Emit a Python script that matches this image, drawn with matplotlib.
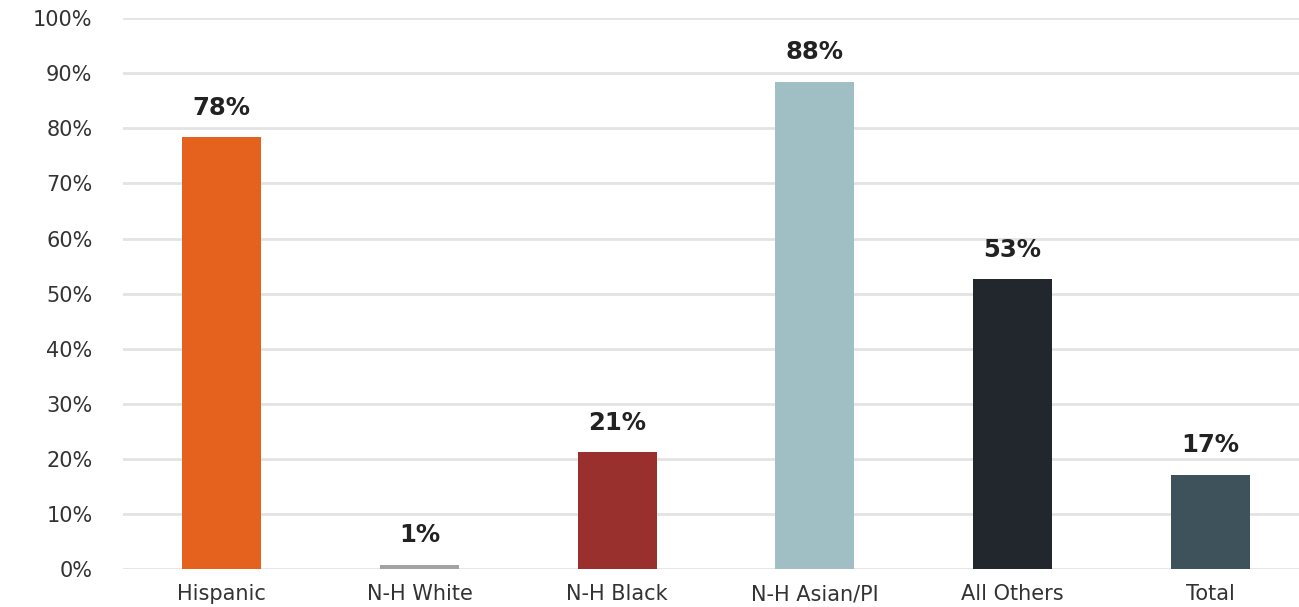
import matplotlib
matplotlib.use('Agg')
import matplotlib.pyplot as plt
import numpy as np

categories = ['Hispanic', 'N-H White', 'N-H Black', 'N-H Asian/PI', 'All Others', 'Total']
values = [78.4, 0.8, 21.2, 88.5, 52.6, 17.1]
labels = ['78%', '1%', '21%', '88%', '53%', '17%']
colors = ['#E4611E', '#A3A3A3', '#9A302D', '#9FBFC4', '#22272E', '#3E525C']

plt.rcParams['font.family'] = ['DejaVu Sans']

fig = plt.figure(figsize=(12.99, 6.07), dpi=100)
ax = fig.add_axes([0.0947, 0.0626, 0.9053, 0.9074])

x = np.arange(len(categories))
ax.bar(x, values, width=0.4, color=colors, zorder=3)

for xi, v, lab in zip(x, values, labels):
    ax.text(xi, v + 3.2, lab, ha='center', va='bottom', fontsize=17.5,
            fontweight='bold', color='#222222')

ax.set_ylim(0, 100)
ax.set_xlim(-0.5, 5.45)
ax.set_yticks(np.arange(0, 101, 10))
ax.set_yticklabels([f'{t}%' for t in range(0, 101, 10)])
ax.set_xticks(x)
ax.set_xticklabels(categories)

ax.yaxis.grid(True, color='#E3E3E3', linewidth=2, zorder=0)
ax.tick_params(axis='both', length=0, labelsize=15, colors='#333333')
ax.tick_params(axis='y', pad=22)
ax.tick_params(axis='x', pad=11)
for s in ax.spines.values():
    s.set_visible(False)

fig.savefig('out.png', dpi=100)
